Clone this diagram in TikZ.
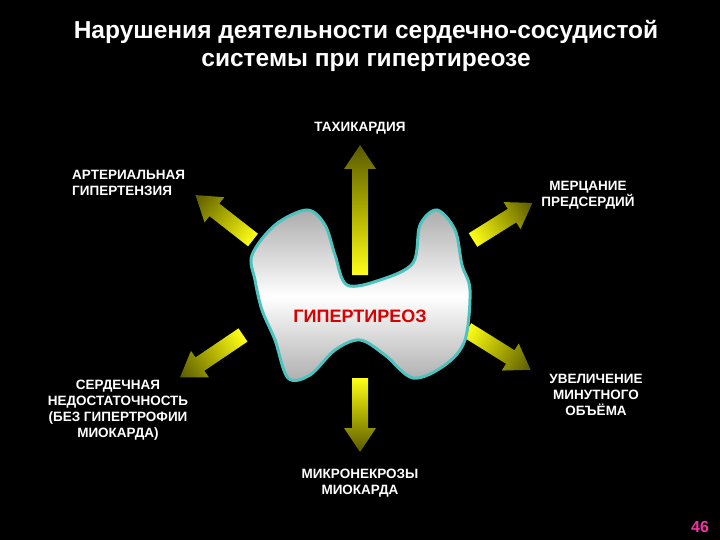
\documentclass[tikz,border=0pt]{standalone}
\usepackage{fontspec}
\setmainfont{Liberation Sans}
\begin{document}
\begin{tikzpicture}[x=1pt,y=1pt,
  lbl/.style={text=white,font=\bfseries\fontsize{13.5}{16}\selectfont,align=center,inner sep=0},
  arr/.style={shading=axis,left color=yellow!90!white,right color=olive!70!black,draw=none}]
\fill[black] (0,0) rectangle (720,-540);
\useasboundingbox (0,0) rectangle (720,-540);
% arrows
\newcommand\fatarrow[4]{%
  \begin{scope}[transform canvas={shift={(#1,-#2)},rotate=#3}]
  \shade[arr] (0,-8)--(#4-24,-8)--(#4-24,-16)--(#4,0)--(#4-24,16)--(#4-24,8)--(0,8)--cycle;
  \end{scope}}
\fatarrow{360}{275}{90}{130}
\fatarrow{360}{378}{-90}{74}
\fatarrow{253}{240}{142}{73}
\fatarrow{473}{240}{32}{70}
\fatarrow{243}{335}{-146}{76}
\fatarrow{467}{330}{-32}{75}
% blob
\path[draw=cyan!60!green!70!white,line width=3pt,shading=axis,top color=gray!65,bottom color=gray!65,middle color=white]
 plot[smooth cycle,tension=0.55] coordinates{(307,-210)(325,-225)(335,-255)(347,-285)(380,-280)(413,-263)(420,-225)(437,-210)(455,-230)(462,-265)(470,-290)(465,-340)(445,-365)(413,-378)(385,-355)(360,-340)(335,-350)(310,-375)(288,-378)(275,-340)(262,-310)(255,-280)(252,-255)(275,-225)};
\node[text=red!85!black,font=\bfseries\fontsize{18}{20}\selectfont] (h) at (360,-316) {ГИПЕРТИРЕОЗ};
% titles
\node[text=white,font=\bfseries\fontsize{24.5}{28}\selectfont,align=center] (t) at (366,-46) {Нарушения деятельности сердечно-сосудистой\\системы при гипертиреозе};
\node[lbl] (a) at (360,-128) {ТАХИКАРДИЯ};
\node[lbl,align=left,anchor=west] (b) at (72,-183) {АРТЕРИАЛЬНАЯ\\ГИПЕРТЕНЗИЯ};
\node[lbl] (c) at (588,-195) {МЕРЦАНИЕ\\ПРЕДСЕРДИЙ};
\node[lbl,align=center] (d) at (118,-410) {СЕРДЕЧНАЯ\\НЕДОСТАТОЧНОСТЬ\\(БЕЗ ГИПЕРТРОФИИ\\МИОКАРДА)};
\node[lbl] (e) at (596,-395) {УВЕЛИЧЕНИЕ\\МИНУТНОГО\\ОБЪЁМА};
\node[lbl] (f) at (360,-483) {МИКРОНЕКРОЗЫ\\МИОКАРДА};
\node[text=magenta!80!white,font=\bfseries\fontsize{16}{18}\selectfont] (n) at (700,-527) {46};
\end{tikzpicture}
\end{document}
